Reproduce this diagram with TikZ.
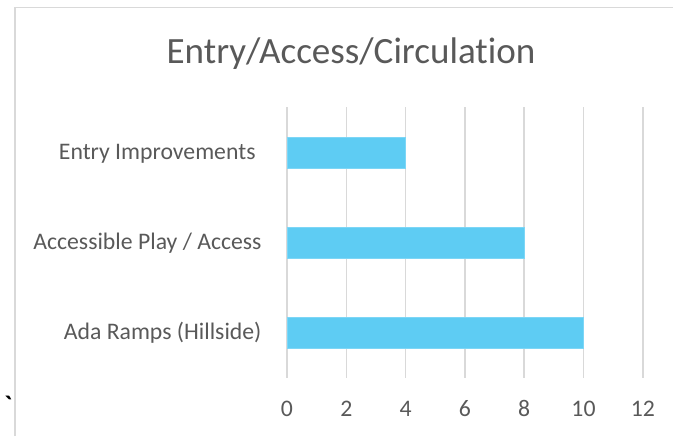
\documentclass[tikz,border=0pt]{standalone}
\usepackage{fontspec}
\setmainfont{Carlito}[Ligatures={NoCommon}]
\definecolor{framegray}{RGB}{217,217,217}
\definecolor{labelgray}{RGB}{89,89,89}
\definecolor{barblue}{RGB}{94,204,243}
\tikzset{every picture/.style={line width=0.75pt}}
\tikzset{
  chartframe/.style={draw=framegray, line width=1.2pt},
  gridline/.style={draw=framegray, line width=1.1pt},
  databar/.style={fill=barblue, draw={rgb, 255:red, 125; green, 214; blue, 246 }, line width=0.5pt},
  catlabel/.style={anchor=base east, inner sep=0.75pt, text=labelgray, font=\fontsize{17.8}{21}\selectfont},
  ticklabel/.style={anchor=base, inner sep=0.75pt, text=labelgray, font=\fontsize{17.8}{21}\selectfont},
}

\begin{document}
\begin{tikzpicture}[x=0.75pt,y=0.75pt,yscale=-1,xscale=1]
\useasboundingbox (0,0) rectangle (673,436);

%Straight Lines [frame]
\draw [chartframe]  (15,436) -- (15,7.5) -- (673,7.5) ;

%Straight Lines [grid 0..12]
\draw [gridline]  (287,107) -- (287,378) ;
\draw [gridline]  (346.3,107) -- (346.3,378) ;
\draw [gridline]  (405.6,107) -- (405.6,378) ;
\draw [gridline]  (464.9,107) -- (464.9,378) ;
\draw [gridline]  (524.2,107) -- (524.2,378) ;
\draw [gridline]  (583.5,107) -- (583.5,378) ;
\draw [gridline]  (642.8,107) -- (642.8,378) ;

%Shape: Rectangle [bar entry]
\draw [databar]  (287,137) -- (405.6,137) -- (405.6,168) -- (287,168) -- cycle ;
%Shape: Rectangle [bar accessible]
\draw [databar]  (287,227) -- (524.2,227) -- (524.2,258) -- (287,258) -- cycle ;
%Shape: Rectangle [bar ramps]
\draw [databar]  (287,317) -- (583.5,317) -- (583.5,348) -- (287,348) -- cycle ;

% Text Node
\node (title) at (351,63.5) [anchor=base, inner sep=0.75pt, text=labelgray, font=\fontsize{27.8}{33}\selectfont] {Entry/Access/Circulation};

% Text Node
\node (entry) at (257,159.5) [catlabel] {Entry Improvements};
% Text Node
\node (accessible) at (263,249.5) [catlabel] {Accessible Play / Access};
% Text Node
\node (ramps) at (263,339.5) [catlabel] {Ada Ramps (Hillside)};

% Text Node
\node (t0) at (287,416.5) [ticklabel] {0};
% Text Node
\node (t2) at (346.3,416.5) [ticklabel] {2};
% Text Node
\node (t4) at (405.6,416.5) [ticklabel] {4};
% Text Node
\node (t6) at (464.9,416.5) [ticklabel] {6};
% Text Node
\node (t8) at (524.2,416.5) [ticklabel] {8};
% Text Node
\node (t10) at (583.5,416.5) [ticklabel] {10};
% Text Node
\node (t12) at (642.8,416.5) [ticklabel] {12};

% Text Node
\node (tick) at (3,414) [anchor=base west, inner sep=0.75pt, font=\fontsize{20}{24}\selectfont\bfseries] {\textasciigrave};

\end{tikzpicture}
\end{document}
